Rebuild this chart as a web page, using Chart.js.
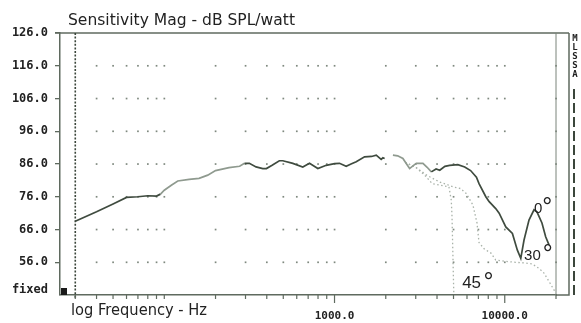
<!DOCTYPE html>
<html>
<head>
<meta charset="utf-8">
<script src="https://cdn.jsdelivr.net/npm/chart.js@4/dist/chart.umd.min.js"></script>
<style>
  html, body { margin: 0; padding: 0; background: #fff; }
  #wrap { width: 581px; height: 323px; position: relative; }
</style>
</head>
<body>
<div id="wrap"><canvas id="c" width="581" height="323"></canvas></div>
<script>
// On-axis (0°) sensitivity, Hz / dB SPL. The null marks the gap in the trace.
const onAxisFreq = [30, 40, 50, 60, 70, 80, 90, 95, 100, 110, 120, 140, 160, 180, 200, 240, 277, 296, 316, 346, 379, 398, 430, 474, 497, 569, 651, 713, 798, 894, 1000, 1070, 1171, 1250, 1341, 1501, 1650, 1758, 1879, 1925, 1970,
  2080,
  2203, 2350, 2522, 2650, 2762, 2900, 3025, 3307, 3500, 3704, 3950, 4150, 4450, 4747, 5300, 5817, 6300, 6818, 7060, 7740, 8100, 8850, 9270, 10140, 11090, 11860, 12420, 12980, 13880, 14850, 15460, 16540, 17390, 18190];
const onAxisDb = [68.5, 71.4, 73.8, 75.8, 76.0, 76.3, 76.2, 76.8, 78.0, 79.5, 80.8, 81.3, 81.6, 82.6, 84.0, 84.9, 85.3, 86.2, 86.2, 85.1, 84.6, 84.6, 85.6, 87.0, 87.0, 86.2, 85.1, 86.2, 84.6, 85.6, 86.1, 86.2, 85.3, 86.0, 86.7, 88.2, 88.3, 88.7, 87.4, 87.9, 87.7,
  null,
  88.7, 88.5, 87.7, 86.0, 84.6, 85.5, 86.2, 86.2, 85.0, 83.6, 84.5, 84.1, 85.3, 85.6, 85.8, 85.1, 84.0, 82.0, 80.0, 76.0, 74.5, 72.4, 71.0, 66.8, 64.8, 59.7, 57.2, 62.8, 68.9, 72.0, 71.4, 68.0, 63.8, 61.3];

// 30° off-axis
const off30Freq = [2600, 3000, 3500, 4150, 5000, 5500, 5940, 6500, 6870, 7060, 7600, 8300, 8840, 10000, 11500, 13000, 14500, 16000, 17000, 18500, 20000];
const off30Db = [86.5, 85.0, 82.5, 80.5, 79.0, 78.5, 77.0, 73.5, 68.0, 62.0, 60.0, 58.8, 56.7, 56.3, 56.0, 55.8, 55.5, 54.0, 52.7, 49.5, 46.5];

// 45° off-axis
const off45Freq = [2600, 3000, 3400, 3750, 4200, 4700, 4850, 4900, 4950, 5000, 5020];
const off45Db = [86.5, 85.0, 82.5, 80.0, 79.5, 79.0, 75.0, 70.0, 60.0, 50.0, 46.5];

// Curve names and where each one is written (Hz, dB)
const curveNames = ['0', '30', '45'];
const curveNameFreq = [14850, 12980, 5620];
const curveNameDb = [71.0, 56.7, 48.1];

// Axis ticks
const xTickFreqs = [30, 40, 50, 60, 70, 80, 90, 100, 200, 300, 400, 500, 600, 700, 800, 900, 1000, 2000, 3000, 4000, 5000, 6000, 7000, 8000, 9000, 10000, 20000];
const xLabelledFreqs = [1000, 10000];
const yTickValues = [47.5, 56, 66, 76, 86, 96, 106, 116, 126];
const yTickLabels = ['fixed', '56.0', '66.0', '76.0', '86.0', '96.0', '106.0', '116.0', '126.0'];
const yGridRows = [56, 66, 76, 86, 96, 106, 116];

const toPoints = (fs, ds) => fs.map((f, i) => ({ x: f, y: ds[i] }));

const DARK = '#3f4b3f';
const AXIS = '#5f6a5f';
const TEXT = '#222';

function fittedText(ctx, text, x, baseline, width, font) {
  ctx.save();
  ctx.font = font;
  const w = ctx.measureText(text).width;
  ctx.translate(x, baseline);
  ctx.scale(width / w, 1);
  ctx.textBaseline = 'alphabetic';
  ctx.textAlign = 'left';
  ctx.fillText(text, 0, 0);
  ctx.restore();
}

const decor = {
  id: 'decor',
  beforeDatasetsDraw(chart) {
    const { ctx, chartArea: a, scales: { x, y } } = chart;
    ctx.save();

    // dotted grid: a dot at every x tick on every 10 dB row
    ctx.fillStyle = '#7f897f';
    yGridRows.forEach(v => {
      const py = y.getPixelForValue(v);
      xTickFreqs.forEach(f => {
        if (f === xTickFreqs[0]) return;
        const px = x.getPixelForValue(f);
        ctx.fillRect(px - 0.8, py - 0.8, 1.7, 1.7);
      });
    });

    // top border, running left past the axis like a tick
    ctx.strokeStyle = AXIS;
    ctx.lineWidth = 1.5;
    ctx.beginPath();
    ctx.moveTo(a.left - 5, a.top);
    ctx.lineTo(a.right + 13, a.top);
    ctx.stroke();

    // inner right edge
    ctx.lineWidth = 1;
    ctx.strokeStyle = '#7a847a';
    ctx.beginPath();
    ctx.moveTo(a.right, a.top);
    ctx.lineTo(a.right, a.bottom);
    ctx.stroke();

    // outer right frame
    ctx.lineWidth = 1.5;
    ctx.strokeStyle = AXIS;
    ctx.beginPath();
    ctx.moveTo(a.right + 13, a.top);
    ctx.lineTo(a.right + 13, a.bottom);
    ctx.lineTo(a.right, a.bottom);
    ctx.stroke();

    // low-frequency limit marker at 30 Hz
    const x30 = x.getPixelForValue(xTickFreqs[0]);
    ctx.strokeStyle = '#3b463b';
    ctx.lineWidth = 1.6;
    ctx.setLineDash([2, 1.6]);
    ctx.beginPath();
    ctx.moveTo(x30, a.top);
    ctx.lineTo(x30, a.bottom + 4);
    ctx.stroke();

    // dashed strip beside the frame
    ctx.strokeStyle = '#3b463b';
    ctx.lineWidth = 2;
    ctx.setLineDash([10, 4]);
    ctx.beginPath();
    ctx.moveTo(a.right + 18, a.top + 56);
    ctx.lineTo(a.right + 18, a.bottom);
    ctx.stroke();
    ctx.setLineDash([]);

    // x tick marks below the axis
    ctx.strokeStyle = AXIS;
    ctx.lineWidth = 1.2;
    xTickFreqs.forEach(f => {
      const px = x.getPixelForValue(f);
      const len = xLabelledFreqs.includes(f) ? 8 : 4;
      ctx.beginPath();
      ctx.moveTo(px, a.bottom);
      ctx.lineTo(px, a.bottom + len);
      ctx.stroke();
    });

    // "fixed" scale marker
    ctx.fillStyle = '#1a1a1a';
    ctx.fillRect(a.left + 1, a.bottom - 7, 6, 7);

    // titles
    ctx.fillStyle = TEXT;
    fittedText(ctx, 'Sensitivity Mag - dB SPL/watt', 68, 25, 227, '16px "DejaVu Sans"');
    fittedText(ctx, 'log Frequency - Hz', 71, 315, 136, '16px "DejaVu Sans"');

    // vertical tag
    ctx.font = 'bold 9px "DejaVu Sans Mono"';
    ctx.textAlign = 'center';
    ctx.textBaseline = 'middle';
    'MLSSA'.split('').forEach((ch, i) => {
      ctx.fillText(ch, a.right + 19, a.top + 6 + i * 9);
    });
    ctx.restore();
  },
  afterDatasetsDraw(chart) {
    const { ctx, scales: { x, y } } = chart;
    ctx.save();
    ctx.fillStyle = TEXT;
    ctx.textBaseline = 'alphabetic';
    ctx.textAlign = 'left';
    const sizes = [15, 15, 17];
    const gaps = [0, 2, 2.5];
    curveNames.forEach((name, i) => {
      const px = x.getPixelForValue(curveNameFreq[i]);
      const py = y.getPixelForValue(curveNameDb[i]);
      ctx.font = sizes[i] + 'px "Liberation Sans"';
      ctx.fillText(name, px, py);
      const w = ctx.measureText(name).width;
      ctx.font = '25px "Liberation Sans"';
      ctx.fillText('°', px + w + gaps[i], py + 2);
    });
    ctx.restore();
  }
};

const lightSpan = f => (f >= 94 && f < 280) || (f >= 2100 && f < 3650);

new Chart(document.getElementById('c'), {
  type: 'line',
  data: {
    datasets: [
      {
        label: '0°',
        data: toPoints(onAxisFreq, onAxisDb),
        borderColor: DARK,
        borderWidth: 1.7,
        pointRadius: 0,
        tension: 0,
        spanGaps: false,
        segment: { borderColor: c => lightSpan(c.p0.parsed.x) ? '#8f9a8f' : undefined }
      },
      {
        label: '30°',
        data: toPoints(off30Freq, off30Db),
        borderColor: '#a9b2a9',
        borderWidth: 1.3,
        borderDash: [1.5, 2.5],
        pointRadius: 0,
        tension: 0
      },
      {
        label: '45°',
        data: toPoints(off45Freq, off45Db),
        borderColor: '#a9b2a9',
        borderWidth: 1.3,
        borderDash: [1.5, 2.5],
        pointRadius: 0,
        tension: 0
      }
    ]
  },
  options: {
    animation: false,
    responsive: false,
    events: [],
    layout: { padding: { top: 33, right: 25, left: 0, bottom: 0 } },
    plugins: { legend: { display: false }, tooltip: { enabled: false }, title: { display: false } },
    scales: {
      x: {
        type: 'logarithmic',
        min: 24.4,
        max: 20000,
        afterBuildTicks: s => { s.ticks = xTickFreqs.map(v => ({ value: v })); },
        afterFit: s => { s.height = 28; },
        grid: { display: false, drawTicks: false, tickLength: 0 },
        border: { display: true, color: AXIS, width: 1.5 },
        ticks: {
          autoSkip: false,
          maxRotation: 0,
          padding: 15,
          color: TEXT,
          font: { family: '"DejaVu Sans Mono"', size: 11, weight: 'bold' },
          callback: v => xLabelledFreqs.includes(v) ? v.toFixed(1) : ''
        }
      },
      y: {
        min: 46,
        max: 126,
        afterBuildTicks: s => { s.ticks = yTickValues.map(v => ({ value: v })); },
        afterFit: s => { s.width = 60; },
        grid: {
          drawOnChartArea: false,
          drawTicks: true,
          tickLength: 5,
          lineWidth: 1.3,
          color: c => (c.tick && c.tick.value === yTickValues[0]) ? 'rgba(0,0,0,0)' : AXIS
        },
        border: { display: true, color: AXIS, width: 1.5 },
        ticks: {
          autoSkip: false,
          padding: 7,
          color: TEXT,
          font: { family: '"DejaVu Sans Mono"', size: 12, weight: 'bold' },
          callback: (v, i) => yTickLabels[i]
        }
      }
    }
  },
  plugins: [decor]
});
</script>
</body>
</html>
